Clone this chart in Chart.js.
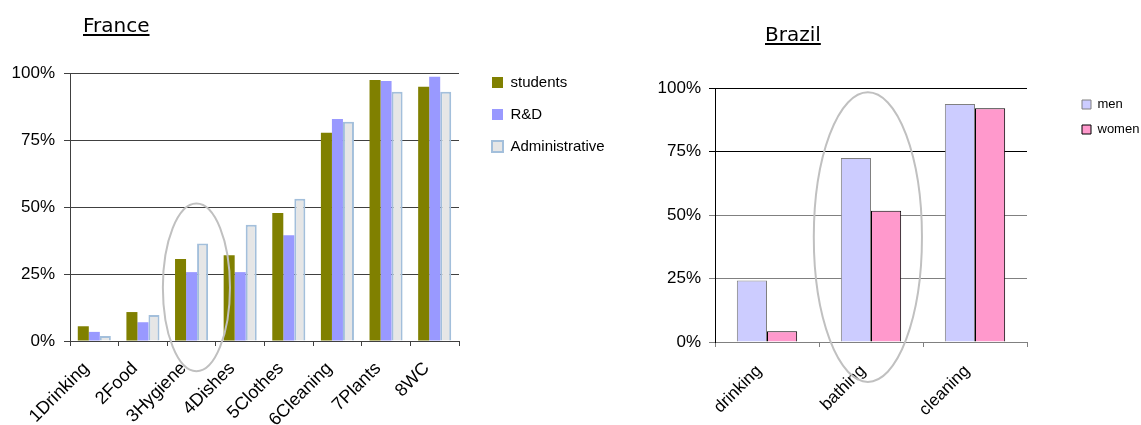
<!DOCTYPE html>
<html>
<head>
<meta charset="utf-8">
<script src="https://cdn.jsdelivr.net/npm/chart.js@4/dist/chart.umd.min.js"></script>
<style>
    body { margin: 0; background: #fff; }
    #page { position: relative; width: 1141px; height: 425px; overflow: hidden; }
    .panel { position: absolute; top: 0; height: 425px; }
    .title {
        position: absolute;
        font-family: 'DejaVu Sans', sans-serif;
        font-size: 20px;
        line-height: 20px;
        color: #000;
        text-decoration: underline;
        text-decoration-thickness: 2px;
        text-underline-offset: 2px;
        z-index: 2;
    }
</style>
</head>
<body>
<div id="page">
    <div class="title" style="left:83px; top:15px;">France</div>
    <div class="title" style="left:765px; top:24px;">Brazil</div>
    <div class="panel" style="left:0; width:640px;"><canvas id="franceChart"></canvas></div>
    <div class="panel" style="left:640px; width:501px;"><canvas id="brazilChart"></canvas></div>
</div>

<script>
// France - share of people per use
const franceCategories = ['1Drinking', '2Food', '3Hygiene', '4Dishes', '5Clothes', '6Cleaning', '7Plants', '8WC'];
const franceStudents = [5.5, 10.8, 30.6, 32, 47.8, 77.7, 97.4, 94.9];
const franceRD = [3.4, 7, 25.7, 25.7, 39.5, 82.8, 97, 98.6];
const franceAdmin = [1.9, 9.7, 36.4, 43.4, 53.1, 81.8, 93, 93];

// Brazil
const brazilCategories = ['drinking', 'bathing', 'cleaning'];
const brazilMen = [24.2, 72.4, 93.7];
const brazilWomen = [4.2, 51.7, 92];

const percentMax = 100;
const percentStep = 25;

Chart.defaults.font.family = "'Liberation Sans', Arial, sans-serif";
Chart.defaults.color = '#000';

// circle drawn round one category
const ringMark = {
    id: 'ringMark',
    afterDraw(chart, args, opts) {
        const xs = chart.scales.x, ys = chart.scales.y;
        const step = xs.getPixelForValue(1) - xs.getPixelForValue(0);
        const cx = xs.getPixelForValue(opts.index) + opts.shift * step;
        const cy = ys.getPixelForValue(opts.value);
        const rx = opts.halfWidth * step;
        const ry = Math.abs(ys.getPixelForValue(opts.value + opts.halfHeight) - cy);
        const ctx = chart.ctx;
        ctx.save();
        ctx.strokeStyle = '#c0c0c0';
        ctx.lineWidth = 2;
        ctx.beginPath();
        ctx.ellipse(cx, cy, rx, ry, 0, 0, Math.PI * 2);
        ctx.stroke();
        ctx.restore();
    }
};

// put the legend box where the original had it
const placeLegend = {
    id: 'placeLegend',
    afterLayout(chart, args, opts) {
        const lg = chart.legend;
        if (!lg) return;
        const w = lg.width, h = lg.height;
        lg.left = opts.x;
        lg.top = opts.y;
        lg.right = opts.x + w;
        lg.bottom = opts.y + h;
    }
};

function percentAxis(tickPadding, gridColor, borderColor, width) {
    return {
        min: 0,
        max: percentMax,
        afterFit: scale => { scale.width = width; },
        ticks: {
            stepSize: percentStep,
            padding: tickPadding,
            font: { size: 17 },
            color: '#000',
            callback: v => v + '%'
        },
        grid: { color: gridColor, tickLength: 6, lineWidth: 1 },
        border: { color: borderColor, width: 1 }
    };
}

function categoryAxis(axisColor, height, pad, offset, size) {
    return {
        afterFit: scale => { scale.height = height; },
        ticks: {
            autoSkip: false,
            minRotation: 45,
            maxRotation: 45,
            padding: pad,
            labelOffset: offset,
            font: { size: size },
            color: '#000'
        },
        grid: { display: true, drawOnChartArea: false, drawTicks: true, tickLength: 5, color: axisColor, offset: true },
        border: { color: axisColor, width: 1 }
    };
}

// ==================== FRANCE ====================
new Chart(document.getElementById('franceChart'), {
    type: 'bar',
    data: {
        labels: franceCategories,
        datasets: [
            { label: 'students', data: franceStudents, backgroundColor: '#808000', borderWidth: 0 },
            { label: 'R&D', data: franceRD, backgroundColor: '#9999ff', borderWidth: 0 },
            { label: 'Administrative', data: franceAdmin, backgroundColor: '#e6e6e6', borderColor: '#a3bfdb', borderWidth: 2 }
        ]
    },
    options: {
        responsive: true,
        maintainAspectRatio: false,
        animation: false,
        categoryPercentage: 0.68,
        barPercentage: 1,
        layout: { padding: { top: 73, right: 181, bottom: 0, left: 0 } },
        scales: {
            x: categoryAxis('#404040', 84, 12, -8, 18),
            y: percentAxis(9, '#404040', '#404040', 70)
        },
        plugins: {
            tooltip: { enabled: false },
            legend: {
                position: 'chartArea',
                align: 'start',
                labels: { boxWidth: 11, boxHeight: 11, padding: 17, font: { size: 15 }, color: '#000' }
            },
            placeLegend: { x: 475, y: 58 },
            ringMark: { index: 2, shift: 0.1, value: 20, halfWidth: 0.69, halfHeight: 31.3 }
        }
    },
    plugins: [ringMark, placeLegend]
});

// ==================== BRAZIL ====================
const brazilGrid = ctx => (ctx.tick && ctx.tick.value >= 75 ? '#000' : '#808080');

new Chart(document.getElementById('brazilChart'), {
    type: 'bar',
    data: {
        labels: brazilCategories,
        datasets: [
            { label: 'men', data: brazilMen, backgroundColor: '#ccccff', borderColor: '#808080', borderWidth: 1 },
            { label: 'women', data: brazilWomen, backgroundColor: '#ff99cc', borderColor: '#000', borderWidth: 1 }
        ]
    },
    options: {
        responsive: true,
        maintainAspectRatio: false,
        animation: false,
        categoryPercentage: 0.58,
        barPercentage: 1,
        layout: { padding: { top: 88, right: 114, bottom: 0, left: 0 } },
        scales: {
            x: categoryAxis('#808080', 83, 14, -8, 17),
            y: percentAxis(8, brazilGrid, '#000', 75)
        },
        plugins: {
            tooltip: { enabled: false },
            legend: {
                position: 'chartArea',
                align: 'start',
                labels: { boxWidth: 9, boxHeight: 9, padding: 12, font: { size: 13 }, color: '#000' }
            },
            placeLegend: { x: 430, y: 86 },
            ringMark: { index: 1, shift: -0.03, value: 41.3, halfWidth: 0.52, halfHeight: 57 }
        }
    },
    plugins: [ringMark, placeLegend]
});
</script>
</body>
</html>
